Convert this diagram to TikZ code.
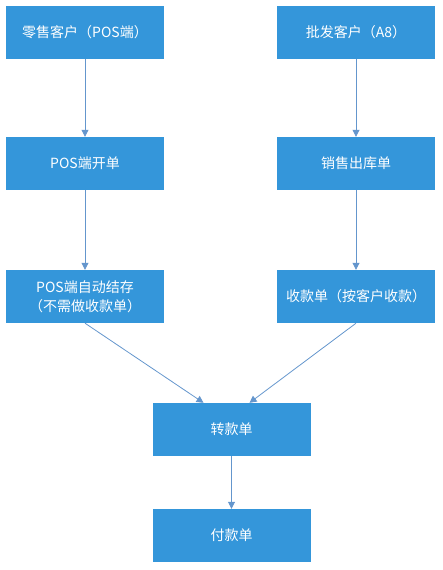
\documentclass[tikz,border=0pt]{standalone}
\usepackage{fontspec}
\setmainfont{Noto Sans CJK SC}
\usetikzlibrary{arrows.meta}
\definecolor{boxblue}{RGB}{52,150,218}
\definecolor{lineblue}{RGB}{100,150,205}
\begin{document}
\begin{tikzpicture}[x=1pt,y=-1pt,
  box/.style={fill=boxblue,draw=none,text=white,minimum width=158pt,minimum height=53pt,inner sep=0pt,align=center,font=\fontsize{14}{19}\selectfont},
  conn/.style={draw=lineblue,line width=0.8pt,-{Triangle[length=7pt,width=7pt]}}]
\useasboundingbox (0,0) rectangle (442,570);
\node[box] (a1) at (85,32) {零售客户（POS端）};
\node[box] (b1) at (356,32) {批发客户（A8）};
\node[box] (a2) at (85,163.5) {POS端开单};
\node[box] (b2) at (356,163.5) {销售出库单};
\node[box] (a3) at (85,296.5) {POS端自动结存\\（不需做收款单）};
\node[box] (b3) at (356,296.5) {收款单（按客户收款）};
\node[box] (c) at (231.5,429.5) {转款单};
\node[box] (d) at (231.5,535.5) {付款单};
\draw[conn] (a1) -- (a2);
\draw[conn] (a2) -- (a3);
\draw[conn] (b1) -- (b2);
\draw[conn] (b2) -- (b3);
\draw[conn] (a3.south) -- ([xshift=-28pt]c.north);
\draw[conn] (b3.south) -- ([xshift=18pt]c.north);
\draw[conn] (c) -- (d);
\end{tikzpicture}
\end{document}
